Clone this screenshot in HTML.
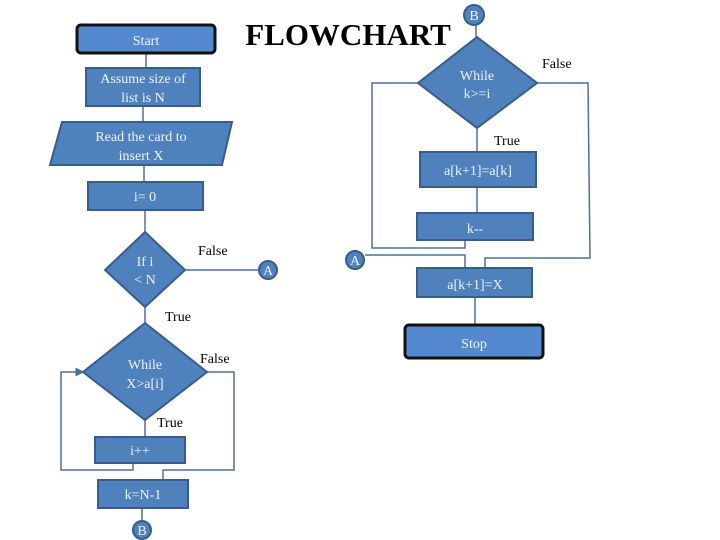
<!DOCTYPE html>
<html><head><meta charset="utf-8"><style>
html,body{margin:0;padding:0;background:#fff;width:720px;height:540px;overflow:hidden}
svg text{font-family:"Liberation Serif",serif}
</style></head><body>
<svg width="720" height="540" viewBox="0 0 720 540" xmlns="http://www.w3.org/2000/svg">
<defs><marker id="ar" markerWidth="6" markerHeight="6" refX="5" refY="3" orient="auto"><path d="M0,0 L6,3 L0,6 z" fill="#4a70a0"/></marker></defs>
<g stroke="#4a70a0" stroke-width="1.5" fill="none">
<line x1="146" y1="53" x2="146" y2="68"/>
<line x1="143" y1="106" x2="143" y2="122"/>
<line x1="144" y1="165" x2="144" y2="182"/>
<line x1="145" y1="210" x2="145" y2="232"/>
<line x1="185" y1="270" x2="259" y2="270"/>
<line x1="145" y1="307" x2="145" y2="323"/>
<line x1="145" y1="420" x2="145" y2="437"/>
<polyline points="207,372 234,372 234,470 163,470 163,480"/>
<polyline points="133,463 133,470 61,470 61,372 83,372" marker-end="url(#ar)"/>
<line x1="142" y1="508" x2="142" y2="521"/>
<line x1="476" y1="25" x2="476" y2="37"/>
<line x1="477" y1="128" x2="477" y2="152"/>
<line x1="477" y1="187" x2="477" y2="213"/>
<polyline points="465,240 465,248 372,248 372,83 418,83"/>
<polyline points="365,255 465,255 465,268"/>
<polyline points="537,83 588,83 590,258 485,258 485,268"/>
<line x1="475" y1="297" x2="475" y2="325"/>
</g>
<g fill="#4f81bd" stroke="#385d8a" stroke-width="2">
<rect x="77" y="25" width="138" height="28" rx="4" fill="#5589cf" stroke="#111" stroke-width="3"/>
<rect x="86" y="68" width="114" height="38"/>
<polygon points="62,122 232,122 222,165 50,165"/>
<rect x="88" y="182" width="115" height="28"/>
<polygon points="145,232 185,270 145,307 105,270"/>
<polygon points="145,323 207,372 145,420 83,372"/>
<rect x="95" y="437" width="90" height="26"/>
<rect x="98" y="480" width="90" height="28"/>
<circle cx="142" cy="530" r="9"/>
<circle cx="268" cy="270" r="9"/>
<circle cx="355" cy="260" r="9"/>
<circle cx="474" cy="15" r="10"/>
<polygon points="477,37 537,83 477,128 418,83"/>
<rect x="420" y="152" width="116" height="35"/>
<rect x="417" y="213" width="116" height="27"/>
<rect x="417" y="268" width="115" height="29"/>
<rect x="405" y="325" width="138" height="33" rx="4" fill="#5589cf" stroke="#111" stroke-width="3"/>
</g>
<g fill="#eef3fa" font-size="14" text-anchor="middle">
<text x="146" y="45">Start</text>
<text x="143" y="83">Assume size of</text>
<text x="143" y="102">list is N</text>
<text x="141" y="141">Read the card to</text>
<text x="141" y="160">insert X</text>
<text x="145" y="201">i= 0</text>
<text x="145" y="266">If i</text>
<text x="145" y="284">&lt; N</text>
<text x="145" y="369">While</text>
<text x="145" y="388">X&gt;a[i]</text>
<text x="140" y="455">i++</text>
<text x="143" y="499">k=N-1</text>
<text x="142" y="535">B</text>
<text x="268" y="275">A</text>
<text x="355" y="265">A</text>
<text x="474" y="20">B</text>
<text x="477" y="80">While</text>
<text x="477" y="98">k&gt;=i</text>
<text x="478" y="175">a[k+1]=a[k]</text>
<text x="475" y="233">k--</text>
<text x="475" y="289">a[k+1]=X</text>
<text x="474" y="348">Stop</text>
</g>
<g fill="#000" font-size="14">
<text x="198" y="255">False</text>
<text x="165" y="321">True</text>
<text x="200" y="363">False</text>
<text x="157" y="427">True</text>
<text x="542" y="68">False</text>
<text x="494" y="145">True</text>
</g>
<text x="348" y="45" text-anchor="middle" font-size="31" font-weight="bold" fill="#000">FLOWCHART</text>
</svg>
</body></html>
